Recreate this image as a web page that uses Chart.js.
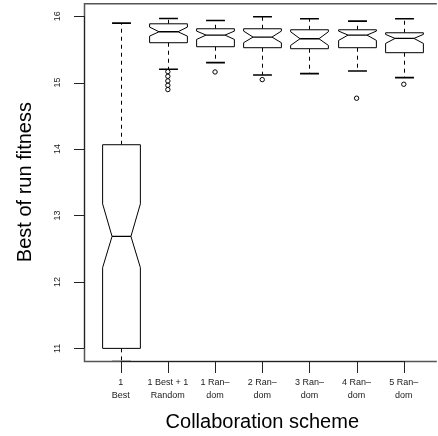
<!DOCTYPE html>
<html>
<head>
<meta charset="utf-8">
<script src="https://cdn.jsdelivr.net/npm/chart.js@4"></script>
<style>
  html, body { margin: 0; padding: 0; background: #fff; }
  canvas { display: block; }
</style>
</head>
<body>
<canvas id="boxChart" width="438" height="436"></canvas>
<script>
// Данные: схемы коллаборации и статистика ящиков
const categories = [['1', 'Best'], ['1 Best + 1', 'Random'], ['1 Ran–', 'dom'], ['2 Ran–', 'dom'], ['3 Ran–', 'dom'], ['4 Ran–', 'dom'], ['5 Ran–', 'dom']];
const upperWhisker = [15.895, 15.965, 15.935, 15.99, 15.96, 15.925, 15.96];
const q3 = [14.065, 15.885, 15.81, 15.81, 15.795, 15.795, 15.75];
const notchHigh = [13.175, 15.835, 15.775, 15.775, 15.765, 15.775, 15.725];
const medians = [12.685, 15.765, 15.715, 15.685, 15.66, 15.715, 15.665];
const notchLow = [12.215, 15.70, 15.65, 15.60, 15.56, 15.635, 15.59];
const q1 = [11.0, 15.6, 15.54, 15.525, 15.51, 15.525, 15.45];
const lowerWhisker = [10.8, 15.2, 15.30, 15.115, 15.135, 15.175, 15.075];
const outliers = [[], [15.165, 15.095, 15.025, 14.96, 14.895], [15.16], [15.045], [], [14.765], [14.975]];
const yTicks = [11, 12, 13, 14, 15, 16];

const FONT = '"Liberation Sans", Arial, Helvetica, sans-serif';

// Точки-выбросы как scatter
const outlierPoints = [];
outliers.forEach((list, i) => list.forEach(v => outlierPoints.push({ x: i + 1, y: v })));

// Плагин: рамка, оси, ящики с выемками
const boxPlugin = {
    id: 'boxPlugin',
    beforeDatasetsDraw(chart) {
        const { ctx, chartArea: a, scales: { x, y } } = chart;
        const half = x.getPixelForValue(1.4) - x.getPixelForValue(1);
        const inset = half / 2;
        const capHalf = half / 2;

        ctx.save();
        ctx.beginPath();
        ctx.rect(a.left, a.top, a.right - a.left, a.bottom - a.top);
        ctx.clip();
        ctx.strokeStyle = '#000';
        for (let i = 0; i < categories.length; i++) {
            const cx = Math.round(x.getPixelForValue(i + 1)) + 0.5;
            const l = cx - half, r = cx + half;
            const pQ3 = y.getPixelForValue(q3[i]), pQ1 = y.getPixelForValue(q1[i]);
            const pNH = y.getPixelForValue(notchHigh[i]), pNL = y.getPixelForValue(notchLow[i]);
            const pMed = y.getPixelForValue(medians[i]);
            const pUp = y.getPixelForValue(upperWhisker[i]), pLo = y.getPixelForValue(lowerWhisker[i]);

            // усы (пунктир)
            ctx.lineWidth = 1;
            ctx.setLineDash([4, 4]);
            ctx.beginPath();
            ctx.moveTo(cx, pQ3); ctx.lineTo(cx, pUp);
            ctx.moveTo(cx, pQ1); ctx.lineTo(cx, pLo);
            ctx.stroke();
            ctx.setLineDash([]);

            // засечки
            ctx.lineWidth = 1.6;
            ctx.beginPath();
            ctx.moveTo(cx - capHalf, pUp); ctx.lineTo(cx + capHalf, pUp);
            ctx.moveTo(cx - capHalf, pLo); ctx.lineTo(cx + capHalf, pLo);
            ctx.stroke();

            // ящик с выемкой
            ctx.lineWidth = 1;
            ctx.fillStyle = '#fff';
            ctx.beginPath();
            ctx.moveTo(l, pQ3);
            ctx.lineTo(l, pNH);
            ctx.lineTo(l + inset, pMed);
            ctx.lineTo(l, pNL);
            ctx.lineTo(l, pQ1);
            ctx.lineTo(r, pQ1);
            ctx.lineTo(r, pNL);
            ctx.lineTo(r - inset, pMed);
            ctx.lineTo(r, pNH);
            ctx.lineTo(r, pQ3);
            ctx.closePath();
            ctx.fill();
            ctx.stroke();

            // медиана
            ctx.lineWidth = 1.3;
            ctx.beginPath();
            ctx.moveTo(l + inset, pMed); ctx.lineTo(r - inset, pMed);
            ctx.stroke();
        }
        ctx.restore();
    },
    afterDraw(chart) {
        const { ctx, chartArea: a, scales: { x, y } } = chart;
        ctx.save();

        // рамка
        ctx.strokeStyle = '#555';
        ctx.lineWidth = 1.5;
        ctx.beginPath();
        ctx.moveTo(a.right + 2, a.top + 0.5);
        ctx.lineTo(a.left + 0.5, a.top + 0.5);
        ctx.lineTo(a.left + 0.5, a.bottom + 0.5);
        ctx.lineTo(a.right + 2, a.bottom + 0.5);
        ctx.stroke();

        // ось Y
        ctx.strokeStyle = '#222';
        ctx.lineWidth = 1;
        ctx.beginPath();
        ctx.moveTo(a.left + 0.5, y.getPixelForValue(yTicks[0]));
        ctx.lineTo(a.left + 0.5, y.getPixelForValue(yTicks[yTicks.length - 1]));
        yTicks.forEach(t => {
            const py = Math.round(y.getPixelForValue(t)) + 0.5;
            ctx.moveTo(a.left - 10, py); ctx.lineTo(a.left, py);
        });
        ctx.stroke();

        ctx.fillStyle = '#222';
        ctx.font = '9px ' + FONT;
        ctx.textAlign = 'center';
        ctx.textBaseline = 'middle';
        yTicks.forEach(t => {
            ctx.save();
            ctx.translate(58, y.getPixelForValue(t));
            ctx.rotate(-Math.PI / 2);
            ctx.fillText(String(t), 0, 0);
            ctx.restore();
        });

        // ось X
        ctx.beginPath();
        ctx.moveTo(x.getPixelForValue(1), a.bottom + 0.5);
        ctx.lineTo(x.getPixelForValue(categories.length), a.bottom + 0.5);
        categories.forEach((_, i) => {
            const px = Math.round(x.getPixelForValue(i + 1)) + 0.5;
            ctx.moveTo(px, a.bottom); ctx.lineTo(px, a.bottom + 12);
        });
        ctx.stroke();

        categories.forEach((lines, i) => {
            const px = x.getPixelForValue(i + 1);
            lines.forEach((txt, j) => ctx.fillText(txt, px, 383 + j * 13));
        });

        // подписи осей
        ctx.fillStyle = '#000';
        ctx.font = '20px ' + FONT;
        ctx.fillText('Collaboration scheme', (a.left + x.getPixelForValue(7.78)) / 2, 422);
        ctx.save();
        ctx.translate(25, (a.top + a.bottom) / 2);
        ctx.rotate(-Math.PI / 2);
        ctx.fillText('Best of run fitness', 0, 0);
        ctx.restore();

        ctx.restore();
    }
};

new Chart(document.getElementById('boxChart').getContext('2d'), {
    type: 'scatter',
    data: {
        datasets: [{
            label: 'outliers',
            data: outlierPoints,
            pointRadius: 2.2,
            pointHoverRadius: 2.2,
            borderColor: '#000',
            borderWidth: 1,
            backgroundColor: 'rgba(0,0,0,0)'
        }]
    },
    options: {
        responsive: false,
        animation: false,
        devicePixelRatio: 1,
        layout: { padding: { left: 84, top: 2, right: 0, bottom: 75 } },
        plugins: { legend: { display: false }, tooltip: { enabled: false } },
        scales: {
            x: { type: 'linear', min: 0.223, max: 7.657, display: false },
            y: { type: 'linear', min: 10.81, max: 16.195, display: false }
        }
    },
    plugins: [boxPlugin]
});
</script>
</body>
</html>
